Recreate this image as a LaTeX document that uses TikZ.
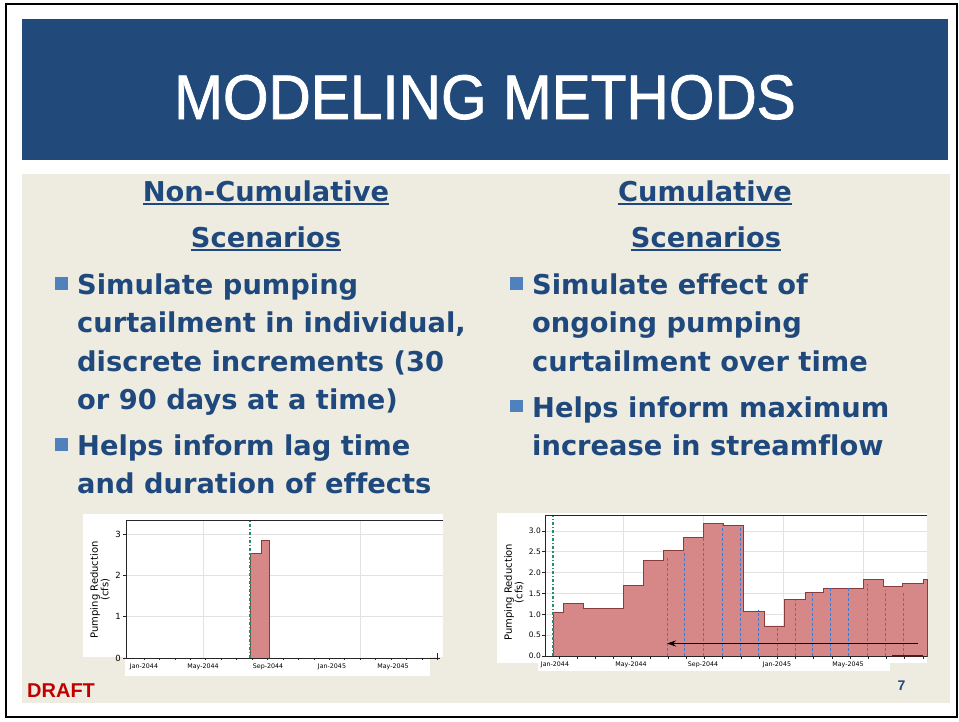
\documentclass[tikz,border=0pt]{standalone}
\usepackage{fontspec}
\setmainfont{Liberation Sans}
\newfontfamily\titlefont{Liberation Sans}[FakeBold=1.3]
\newfontfamily\slidefont{DejaVu Sans}[Ligatures=CommonOff]
\newfontfamily\chartfont{DejaVu Sans}
\usetikzlibrary{arrows.meta}
\definecolor{titlebg}{HTML}{214A7B}
\definecolor{slidetan}{HTML}{EEECE1}
\definecolor{textblue}{HTML}{1F497D}
\definecolor{bulletblue}{HTML}{4F81BD}
\definecolor{draftred}{HTML}{C00000}
\definecolor{barfill}{HTML}{D68888}
\definecolor{baredge}{HTML}{8C3B3B}
\definecolor{startgreen}{HTML}{2A8C6E}
\definecolor{lagblue}{HTML}{3A7BD5}
\definecolor{gridgray}{HTML}{E2E2E2}

\begin{document}
\begin{tikzpicture}[x=1pt,y=-1pt,
  bodyline/.style={anchor=base west,inner sep=0pt,text=textblue,
    font=\slidefont\bfseries\fontsize{27.3}{30}\selectfont},
  headline/.style={bodyline,anchor=base},
  underrule/.style={textblue,line width=1.5pt},
  bulletsq/.style={fill=bulletblue,minimum size=12.5pt,inner sep=0pt},
  gridline/.style={gridgray,line width=0.6pt},
  axisline/.style={black!85,line width=0.8pt},
  bar/.style={fill=barfill,draw=baredge,line width=0.9pt},
  startline/.style={startgreen,line width=1.2pt,dash dot},
  lagline/.style={lagblue,line width=0.8pt,dash pattern=on 3pt off 2pt},
  ticklabel/.style={inner sep=0pt,font=\chartfont\fontsize{6.3}{7}\selectfont},
  ynumber/.style={inner sep=0pt,anchor=east,font=\chartfont\fontsize{8.5}{9}\selectfont},
  axislabel/.style={inner sep=0pt,rotate=90,align=center,
    font=\chartfont\fontsize{10}{10.5}\selectfont}]

  \useasboundingbox (0,0) rectangle (959,721);
  \fill[white] (0,0) rectangle (959,721);
  \draw[line width=2pt] (6,4) rectangle (957,717);
  \fill[titlebg] (22,19) rectangle (948,160);
  \fill[slidetan] (22,174) rectangle (950,703);

  \node[anchor=base,inner sep=0pt,text=white,xscale=0.93,
    font=\titlefont\fontsize{63}{63}\selectfont] (title) at (485,119) {MODELING METHODS};

  \node[headline] (lefthead1) at (266,201) {Non-Cumulative};
  \node[headline] (lefthead2) at (266,247) {Scenarios};
  \node[headline] (righthead1) at (705,201) {Cumulative};
  \node[headline] (righthead2) at (706,247) {Scenarios};
  \foreach \h in {lefthead1,lefthead2,righthead1,righthead2}
    \draw[underrule] ([yshift=-3pt]\h.base west) -- ([yshift=-3pt]\h.base east);

  \node[bulletsq] (lbullet1) at (61.3,283.7) {};
  \node[bulletsq] (lbullet2) at (61.3,444.5) {};
  \node[bodyline] (left1) at (77,294.3) {Simulate pumping};
  \node[bodyline] (left2) at (77,332.3) {curtailment in individual,};
  \node[bodyline] (left3) at (77,371) {discrete increments (30};
  \node[bodyline] (left4) at (77,409.3) {or 90 days at a time)};
  \node[bodyline] (left5) at (77,455) {Helps inform lag time};
  \node[bodyline] (left6) at (77,493.3) {and duration of effects};

  \node[bulletsq] (rbullet1) at (516.3,283.5) {};
  \node[bulletsq] (rbullet2) at (516.3,406.2) {};
  \node[bodyline] (right1) at (532,294.3) {Simulate effect of};
  \node[bodyline] (right2) at (532,332.3) {ongoing pumping};
  \node[bodyline] (right3) at (532,371) {curtailment over time};
  \node[bodyline] (right4) at (532,417.3) {Helps inform maximum};
  \node[bodyline] (right5) at (532,455.7) {increase in streamflow};

  \fill[white] (83,514) rectangle (443,657);
  \fill[white] (125,657) rectangle (430,676);
  \begin{scope}[shift={(0,658)},y=41.3pt]
    \foreach \v in {1,2,3}
      \draw[gridline] (126,\v) -- (443,\v);
    \foreach \x in {203,360}
      \draw[gridline] (\x,0) -- (\x,3.34);
    \filldraw[bar] (250,0) -- (250,2.52) -| (261,2.85) -| (269,0) -- cycle;
    \draw[startline] (250,0) -- (250,3.34);
    \draw[axisline] (126,3.34) -- (443,3.34);
    \draw[axisline] (126,3.34) -- (126,0) -- (440,0);
    \foreach \i in {0,...,19}
      \draw[axisline] (144+15.45*\i,0) -- ++(0,-0.06);
    \draw[axisline] (437,0) -- (437,0.12);
    \foreach \v in {0,1,2,3} {
      \draw[axisline] (126,\v) -- ++(-3,0);
      \node[ynumber] (lytick\v) at (121,\v) {\v};
    }
    \foreach \x/\t [count=\k] in {144/Jan-2044,203/May-2044,268/Sep-2044,332/Jan-2045,393/May-2045}
      \node[ticklabel] (lxtick\k) at (\x,-0.22) {\t};
    \node[axislabel] (leftylabel) at (100,1.65) {Pumping Reduction\\(cfs)};
  \end{scope}

  \fill[white] (497,513) rectangle (927,663);
  \fill[white] (538,663) rectangle (890,671);
  \begin{scope}[shift={(0,656)},y=41.7pt]
    \foreach \v in {0.5,1.0,...,3.0}
      \draw[gridline] (545,\v) -- (927,\v);
    \foreach \x in {623,703,783,863}
      \draw[gridline] (\x,0) -- (\x,3.36);
    \filldraw[bar] (553,0) -- (553,1.05) -| (563,1.25) -| (583,1.15) -| (623,1.70)
      -| (643,2.28) -| (663,2.52) -| (683,2.85) -| (703,3.17) -| (723,3.13)
      -| (743,1.07) -| (764,0.72) -| (784,1.35) -| (805,1.53) -| (823,1.62)
      -| (863,1.83) -| (883,1.66) -| (902,1.75) -| (923,1.83) -- (927,1.83)
      -- (927,0) -- cycle;
    \foreach \x/\v in {667/2.38,684/2.5,703/2.86,722/3.15,740/3.1,758/1.1,777/0.7,
      795/1.35,812/1.52,830/1.62,848/1.62,867/1.72,885/1.58,903/1.55}
      \draw[lagline] (\x,0) -- (\x,\v);
    \draw[startline] (553,0) -- (553,3.36);
    \coordinate (lagstart) at (918,0.3);
    \coordinate (lagend) at (667,0.3);
    \draw[line width=1.1pt,-{Stealth[length=9pt,width=6pt]}] (lagstart) -- (lagend);
    \draw[axisline] (545,3.36) -- (927,3.36);
    \draw[axisline] (545,3.36) -- (545,0) -- (927,0);
    \draw[baredge!50!black,line width=1.8pt] (892,0) -- (923,0);
    \foreach \k in {0,...,20}
      \draw[axisline] (559+18.2*\k,0) -- ++(0,-0.06);
    \foreach \v in {0.0,0.5,1.0,1.5,2.0,2.5,3.0} {
      \draw[axisline] (545,\v) -- ++(-3,0);
      \node[ynumber,font=\chartfont\fontsize{7.5}{8}\selectfont] (rytick\v) at (541,\v) {\v};
    }
    \foreach \x/\t [count=\k] in {555/Jan-2044,631/May-2044,703/Sep-2044,777/Jan-2045,848/May-2045}
      \node[ticklabel] (rxtick\k) at (\x,-0.2) {\t};
    \node[axislabel] (rightylabel) at (514,1.53) {Pumping Reduction\\(cfs)};
  \end{scope}

  \node[anchor=base west,inner sep=0pt,text=draftred,
    font=\bfseries\fontsize{20}{20}\selectfont] (draft) at (27,697) {DRAFT};
  \node[anchor=base,inner sep=0pt,text=textblue,
    font=\bfseries\fontsize{14}{14}\selectfont] (pagenum) at (901.5,690) {7};
\end{tikzpicture}
\end{document}
